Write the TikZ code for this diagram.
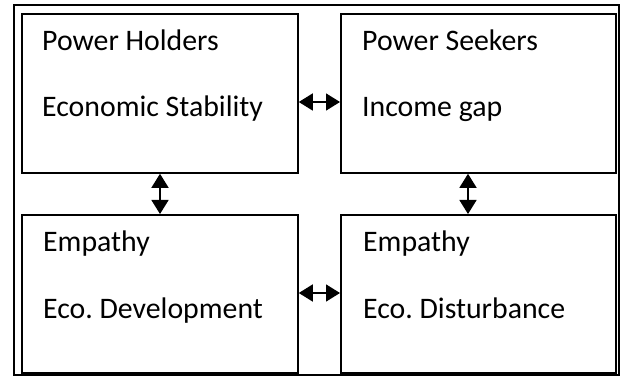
\documentclass[tikz,border=0pt]{standalone}
\usepackage{fontspec}
\setmainfont{Carlito}
\frenchspacing
\usetikzlibrary{arrows.meta}
\begin{document}
\begin{tikzpicture}[x=1pt,y=-1pt,
  boxstyle/.style={draw=black,line width=1.8pt,fill=white},
  label/.style={anchor=base west,inner sep=0pt,font=\fontsize{29.8}{35}\selectfont},
  biarrow/.style={line width=1.5pt,{Triangle[width=17pt,length=14pt]}-{Triangle[width=17pt,length=14pt]}}]
\useasboundingbox (0,0) rectangle (622,377);
\draw[line width=2.2pt] (14,5) rectangle (619,375);
% boxes
\node[boxstyle,minimum width=276pt,minimum height=159pt,inner sep=0pt,anchor=north west] (tl) at (21,13) {};
\node[boxstyle,minimum width=275pt,minimum height=159pt,inner sep=0pt,anchor=north west] (tr) at (340,13) {};
\node[boxstyle,minimum width=276pt,minimum height=158pt,inner sep=0pt,anchor=north west] (bl) at (21,214) {};
\node[boxstyle,minimum width=275pt,minimum height=158pt,inner sep=0pt,anchor=north west] (br) at (340,214) {};
% texts
\node[label] (tl1) at (42,51) {Power Holders};
\node[label] (tl2) at (42,117) {Economic Stability};
\node[label] (tr1) at (362,51) {Power Seekers};
\node[label] (tr2) at (362,117) {Income gap};
\node[label] (bl1) at (43,252) {Empathy};
\node[label] (bl2) at (43,319) {Eco. Development};
\node[label] (br1) at (363,252) {Empathy};
\node[label] (br2) at (363,319) {Eco. Disturbance};
% arrows
\draw[biarrow] (tl.east |- 0,102) -- (tr.west |- 0,102);
\draw[biarrow] (bl.east |- 0,293) -- (br.west |- 0,293);
\draw[biarrow] (160,0 |- tl.south) -- (160,0 |- bl.north);
\draw[biarrow] (468,0 |- tr.south) -- (468,0 |- br.north);
\end{tikzpicture}
\end{document}
